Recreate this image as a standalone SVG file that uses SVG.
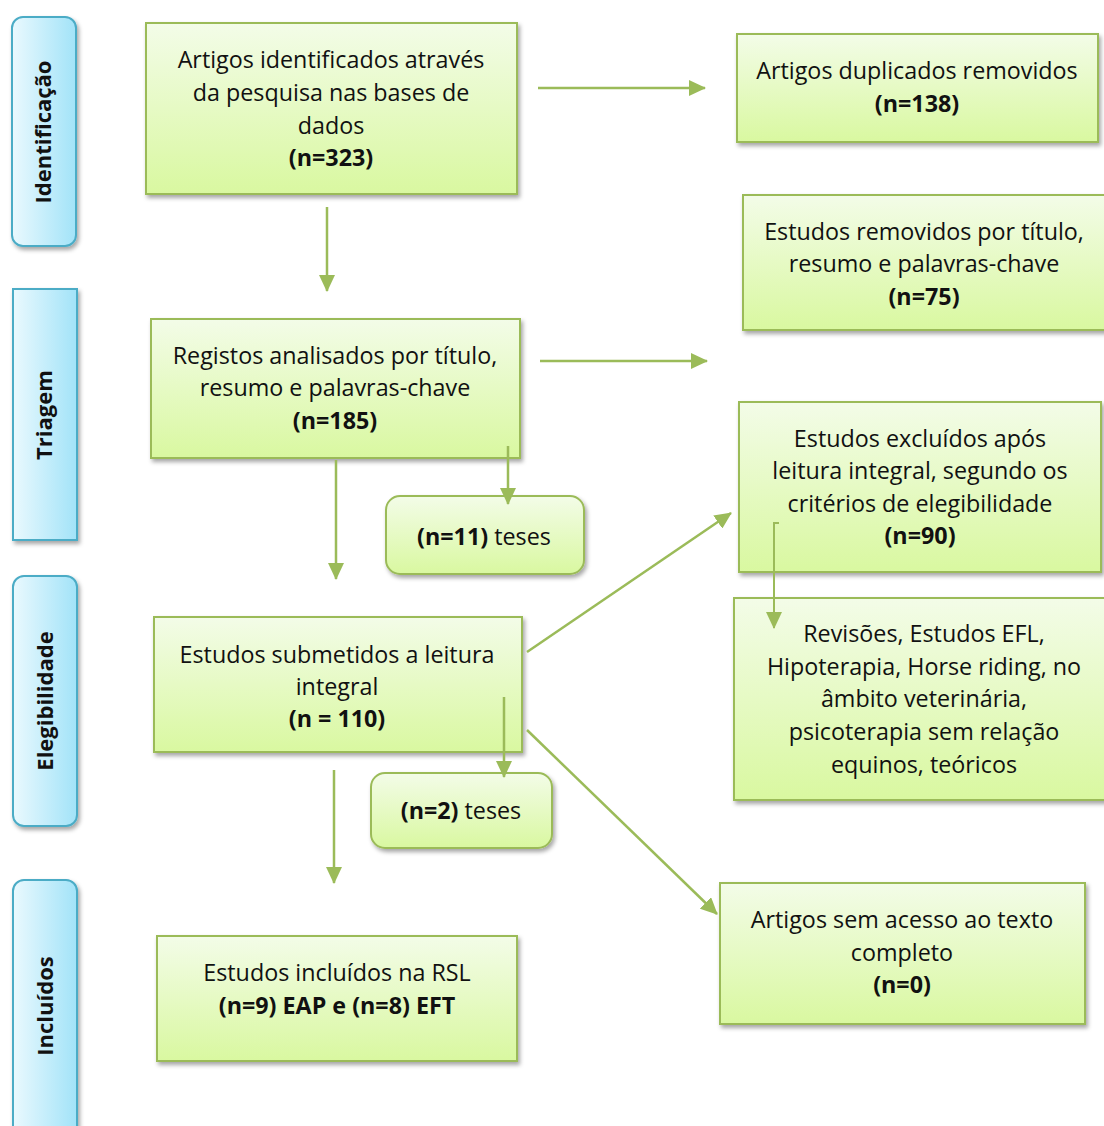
<svg xmlns="http://www.w3.org/2000/svg" width="1104" height="1126" viewBox="0 0 1104 1126">
<defs>
<linearGradient id="gGreen" x1="0" y1="0" x2="0" y2="1">
<stop offset="0" stop-color="#F3FCE8"/>
<stop offset="1" stop-color="#D9F8A0"/>
</linearGradient>
<linearGradient id="gBlue" x1="0" y1="0" x2="1" y2="0">
<stop offset="0" stop-color="#EAF9FE"/>
<stop offset="1" stop-color="#A2E3F8"/>
</linearGradient>
<filter id="sh" x="-10%" y="-10%" width="125%" height="130%">
<feDropShadow dx="2" dy="3" stdDeviation="2" flood-color="#000" flood-opacity="0.35"/>
</filter>
<marker id="ah" markerUnits="userSpaceOnUse" markerWidth="17" markerHeight="16" refX="16" refY="8" orient="auto">
<path d="M0,0 L17,8 L0,16 z" fill="#9BBB59"/>
</marker>
</defs>
<style>
.box{fill:url(#gGreen);stroke:#9BBB59;stroke-width:2;filter:url(#sh)}
.stage{fill:url(#gBlue);stroke:#4BACC6;stroke-width:2;filter:url(#sh)}
.t{font-family:"Open Sans","Liberation Sans",Arial,sans-serif;font-size:23.3px;fill:#111;text-anchor:middle}
.b{font-weight:bold}
.st{font-family:"Open Sans","Liberation Sans",Arial,sans-serif;font-size:22px;font-weight:bold;fill:#111;text-anchor:middle}
.c{fill:none;stroke:#9BBB59;stroke-width:2.5;marker-end:url(#ah)}
</style>
<rect width="1104" height="1126" fill="#fff"/>

<g id="stage-identificacao">
<rect class="stage" x="12" y="17" width="64" height="229" rx="11"/>
<text class="st" transform="translate(51,132) rotate(-90)">Identificação</text>
</g>
<g id="stage-triagem">
<rect class="stage" x="13" y="289" width="64" height="251"/>
<text class="st" transform="translate(52,415) rotate(-90)">Triagem</text>
</g>
<g id="stage-elegibilidade">
<rect class="stage" x="13" y="576" width="64" height="250" rx="11"/>
<text class="st" transform="translate(53,701) rotate(-90)">Elegibilidade</text>
</g>
<g id="stage-incluidos">
<rect class="stage" x="13" y="880" width="64" height="262" rx="11"/>
<text class="st" transform="translate(53,1006) rotate(-90)">Incluídos</text>
</g>

<g id="n-identificados">
<rect class="box" x="146" y="23" width="371" height="171"/>
<text class="t" x="331" y="68">Artigos identificados através</text>
<text class="t" x="331" y="101">da pesquisa nas bases de</text>
<text class="t" x="331" y="134">dados</text>
<text class="t b" x="331" y="166">(n=323)</text>
</g>
<g id="n-duplicados">
<rect class="box" x="737" y="34" width="361" height="108"/>
<text class="t" x="917" y="79">Artigos duplicados removidos</text>
<text class="t b" x="917" y="112">(n=138)</text>
</g>
<g id="n-removidos">
<rect class="box" x="743" y="195" width="363" height="135"/>
<text class="t" x="924" y="240">Estudos removidos por título,</text>
<text class="t" x="924" y="272">resumo e palavras-chave</text>
<text class="t b" x="924" y="305">(n=75)</text>
</g>
<g id="n-registos">
<rect class="box" x="151" y="319" width="369" height="139"/>
<text class="t" x="335" y="364">Registos analisados por título,</text>
<text class="t" x="335" y="396">resumo e palavras-chave</text>
<text class="t b" x="335" y="429">(n=185)</text>
</g>
<g id="n-teses11">
<rect class="box" x="386" y="496" width="198" height="78" rx="14"/>
<text class="t" x="484" y="545"><tspan class="b">(n=11)</tspan> teses</text>
</g>
<g id="n-excluidos">
<rect class="box" x="739" y="402" width="362" height="170"/>
<text class="t" x="920" y="447">Estudos excluídos após</text>
<text class="t" x="920" y="479">leitura integral, segundo os</text>
<text class="t" x="920" y="512">critérios de elegibilidade</text>
<text class="t b" x="920" y="544">(n=90)</text>
</g>
<g id="n-submetidos">
<rect class="box" x="154" y="617" width="368" height="135"/>
<text class="t" x="337" y="663">Estudos submetidos a leitura</text>
<text class="t" x="337" y="695">integral</text>
<text class="t b" x="337" y="727">(n = 110)</text>
</g>
<g id="n-teses2">
<rect class="box" x="371" y="773" width="181" height="75" rx="14"/>
<text class="t" x="461" y="819"><tspan class="b">(n=2)</tspan> teses</text>
</g>
<g id="n-revisoes">
<rect class="box" x="734" y="598" width="372" height="202"/>
<text class="t" x="924" y="642">Revisões, Estudos EFL,</text>
<text class="t" x="924" y="675">Hipoterapia, Horse riding, no</text>
<text class="t" x="924" y="707">âmbito veterinária,</text>
<text class="t" x="924" y="740">psicoterapia sem relação</text>
<text class="t" x="924" y="773">equinos, teóricos</text>
</g>
<g id="n-incluidos">
<rect class="box" x="157" y="936" width="360" height="125"/>
<text class="t" x="337" y="981">Estudos incluídos na RSL</text>
<text class="t b" x="337" y="1014">(n=9) EAP e (n=8) EFT</text>
</g>
<g id="n-semacesso">
<rect class="box" x="720" y="883" width="365" height="141"/>
<text class="t" x="902" y="928">Artigos sem acesso ao texto</text>
<text class="t" x="902" y="961">completo</text>
<text class="t b" x="902" y="993">(n=0)</text>
</g>

<g id="connectors">
<path class="c" d="M538,88 H705"/>
<path class="c" d="M327,207 V291"/>
<path class="c" d="M540,361 H707"/>
<path class="c" d="M336,460 V579"/>
<path class="c" d="M508,446 V504"/>
<path class="c" d="M527,652 L731,513"/>
<path class="c" d="M527,730 L717,914"/>
<path class="c" d="M504,697 V777"/>
<path class="c" d="M334,770 V883"/>
<path class="c" d="M779,523 H774 V628" style="stroke-width:2"/>
</g>
</svg>
